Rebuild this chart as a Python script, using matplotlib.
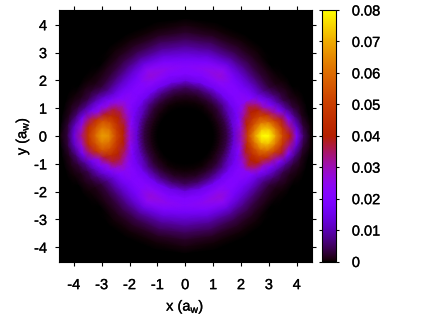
import numpy as np
import matplotlib
matplotlib.use('Agg')
import matplotlib.pyplot as plt
import matplotlib.patheffects as pe
from matplotlib.colors import ListedColormap

plt.rcParams['font.family'] = ['Liberation Sans', 'DejaVu Sans']
plt.rcParams['mathtext.default'] = 'regular'

radius = np.arange(20) * 0.25
hole = [0, 0, 0, 0]
# right half, angle in degrees from +x
r000 = hole + [.2, 1, 4, 13, 30, 50, 68, 80, 80, 68, 52, 40, 20, 5, .5, 0]
r005 = hole + [.2, 1, 4, 13, 29, 47, 62, 73, 73, 62, 47, 33, 13, 3, .4, 0]
r010 = hole + [.2, 1, 4, 13, 26, 42, 54, 62, 60, 50, 38, 20, 7, 1.5, .2, 0]
r015 = hole + [.2, 1, 4, 13, 22, 38, 46, 50, 45, 33, 20, 9, 3, 1, .2, 0]
r020 = hole + [.2, 1, 4, 12, 18, 32, 40, 40, 30, 19, 10, 4, 1.5, .5, .1, 0]
r025 = hole + [.2, 1, 4, 11, 17, 26, 36, 32, 20, 12, 6, 2.5, 1, .3, 0, 0]
r030 = hole + [.2, 1, 4, 10, 16, 21, 24, 20, 13, 7, 3, 1.2, .4, .1, 0, 0]
r040 = hole + [.2, .8, 3, 8, 16, 20, 20, 16, 11, 6, 2.5, 1, .3, .1, 0, 0]
r050 = hole + [.2, .7, 2.5, 8, 16, 21, 21, 17, 12, 7, 3.5, 1.3, .4, .1, 0, 0]
r060 = hole + [.2, .6, 2.5, 7, 16, 23, 27, 24, 14, 8, 4, 1.7, .5, .1, 0, 0]
r075 = hole + [.1, .5, 2, 6, 15, 20, 24, 19, 13, 8, 4.5, 1.7, .6, .2, 0, 0]
r090 = hole + [.1, .5, 2, 5, 14, 20, 21, 17, 12, 8, 4.5, 2, .7, .2, 0, 0]
# left half
l025 = hole + [.2, 1, 4, 11, 17, 24, 30, 27, 19, 12, 6, 2.5, 1, .3, 0, 0]
l020 = hole + [.2, 1, 4, 11, 18, 29, 36, 37, 27, 18, 10, 4, 1.5, .5, .1, 0]
l015 = hole + [.2, 1, 4, 12, 21, 34, 41, 44, 38, 26, 16, 8, 3, 1, .2, 0]
l010 = hole + [.2, 1, 4, 13, 24, 38, 46, 54, 55, 46, 34, 17, 6, 1.5, .2, 0]
l005 = hole + [.2, 1, 4, 13, 27, 40, 50, 61, 63, 54, 44, 27, 11, 2.5, .3, 0]
l000 = hole + [.2, 1, 4, 13, 28, 42, 53, 66, 68, 58, 46, 32, 14, 3, .4, 0]

angles = [0, 5, 10, 15, 20, 25, 30, 40, 50, 60, 75, 90, 105, 120, 130, 140, 150, 155, 160, 165, 170, 175, 180]
rays = [r000, r005, r010, r015, r020, r025, r030, r040, r050, r060, r075, r090,
        r075, r060, r050, r040, r030, l025, l020, l015, l010, l005, l000]

ticks = [-4, -3, -2, -1, 0, 1, 2, 3, 4]
cb_ticks = [0, 0.01, 0.02, 0.03, 0.04, 0.05, 0.06, 0.07, 0.08]
cb_labels = ['0', '0.01', '0.02', '0.03', '0.04', '0.05', '0.06', '0.07', '0.08']

# lower half mirrors the upper half
upper = np.array(rays) * 0.001
density = np.vstack([upper, upper[-2::-1]])
theta = np.radians(np.r_[angles, 360 - np.array(angles[-2::-1])])
T, R = np.meshgrid(theta, radius, indexing='ij')
X = R * np.cos(T)
Y = R * np.sin(T)

# gnuplot default pm3d palette (rgbformulae 7,5,15)
t = np.linspace(0, 1, 256)
pal = ListedColormap(np.c_[np.sqrt(t), t**3, np.clip(np.sin(2 * np.pi * t), 0, 1)])

W, H = 443, 318
fig = plt.figure(figsize=(W / 100, H / 100), dpi=100)
ax = fig.add_axes([59 / W, 1 - 262 / H, 252.5 / W, 252 / H], facecolor='black')
im = ax.pcolormesh(X, Y, density, cmap=pal, vmin=0, vmax=0.08, shading='gouraud')
ax.set_xlim(-4.53, 4.53)
ax.set_ylim(-4.53, 4.53)
ax.set_xticks(ticks)
ax.set_yticks(ticks)
ax.set_xticklabels([str(v) for v in ticks])
ax.set_yticklabels([str(v) for v in ticks])
ax.tick_params(direction='out', length=2.6, width=0.8, labelsize=10.5, top=True, right=True)
ax.tick_params(axis='x', pad=9)
ax.tick_params(axis='y', pad=6)
ax.set_xlabel('x (a$_{w}$)', fontsize=10.5, labelpad=4)
ax.set_ylabel('y (a$_{w}$)', fontsize=10.5, labelpad=2)

cax = fig.add_axes([322 / W, 1 - 261.5 / H, 14 / W, 251.5 / H])
cb = fig.colorbar(im, cax=cax)
cb.set_ticks(cb_ticks)
cb.set_ticklabels(cb_labels)
cax.tick_params(direction='out', length=2.4, width=0.8, labelsize=10.5, left=True, right=True, pad=9)
cb.outline.set_linewidth(0.8)

# the text in the reference is a little heavier than the regular weight
heavy = [pe.withStroke(linewidth=0.2, foreground='black')]
for lab in ax.get_xticklabels() + ax.get_yticklabels() + cax.get_yticklabels() + [ax.xaxis.label, ax.yaxis.label]:
    lab.set_path_effects(heavy)

fig.savefig('out.png', dpi=100)
